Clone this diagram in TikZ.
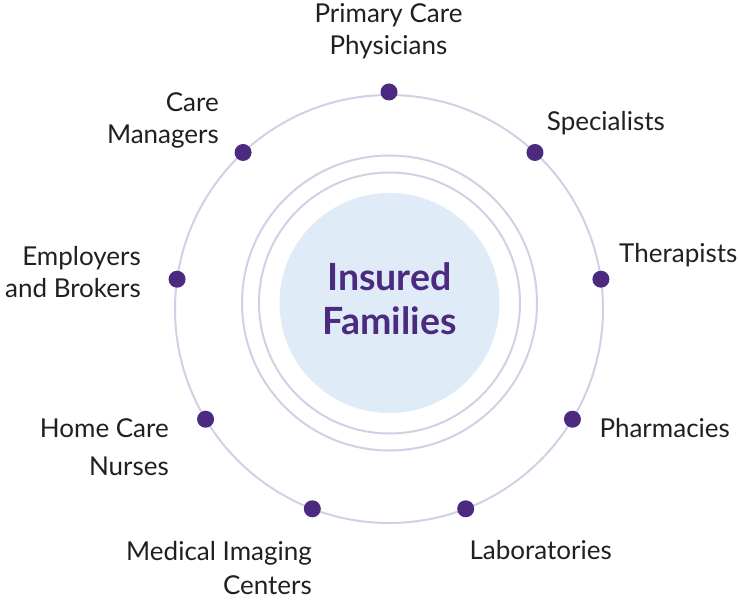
\documentclass[tikz,border=0pt]{standalone}
\usepackage{fontspec}
\setmainfont{Lato}
\usepackage{tikz}

\definecolor{ringline}{HTML}{D3CFE4}
\definecolor{plum}{HTML}{4B2A80}
\definecolor{paleblue}{HTML}{DFECF8}
\definecolor{ink}{HTML}{231F20}

\tikzset{
  dot/.style={circle,fill=plum,inner sep=0pt,minimum size=17pt},
  ring/.style={draw=ringline,line width=2pt},
  lbl/.style={text=ink,inner sep=0pt,font=\fontsize{26}{32}\selectfont},
}

\begin{document}
\begin{tikzpicture}[x=1pt,y=1pt]
    \useasboundingbox (0,0) rectangle (738,600);
    \coordinate (hub) at (389.5,297);
    \coordinate (orbit) at (389,291);

    % centre and inner rings
    \fill[paleblue] (hub) circle[radius=110pt];
    \draw[ring] (hub) circle[radius=130.5pt];
    \draw[ring] (hub) circle[radius=147.5pt];
    \node[font=\bfseries\fontsize{37.5}{43.6}\selectfont,text=plum,align=center,inner sep=0pt,anchor=base] (fam) at (389.5,265.7) {Insured\\Families};

    % outer ring with its stops
    \draw[ring] (orbit) circle[radius=214pt];
    \path (orbit) ++(90:217pt) node[dot] (pcp) {};
    \path (orbit) ++(47:214pt) node[dot] (spec) {};
    \path (orbit) ++(8:214pt) node[dot] (ther) {};
    \path (orbit) ++(-31:214pt) node[dot] (pharm) {};
    \path (orbit) ++(-69:214pt) node[dot] (lab) {};
    \path (orbit) ++(-111:214pt) node[dot] (img) {};
    \path (orbit) ++(-149:214pt) node[dot] (home) {};
    \path (orbit) ++(172:214pt) node[dot] (empl) {};
    \path (orbit) ++(133:214pt) node[dot] (mgr) {};

    % labels (multi-line ones sit on their last line)
    \node[lbl,align=center,anchor=base] (pcpname) at (388.5,545) {Primary Care\\Physicians};
    \node[lbl,anchor=base west] (specname) at (546.7,469.3) {Specialists};
    \node[lbl,anchor=base west] (thername) at (619,337.3) {Therapists};
    \node[lbl,anchor=base west] (pharmname) at (599.3,162.3) {Pharmacies};
    \node[lbl,anchor=base west] (labname) at (469.3,41) {Laboratories};
    \node[lbl,align=right,anchor=base east] (imgname) at (312,6) {Medical Imaging\\[2pt]Centers};
    \node[lbl,align=right,anchor=base east] (homename) at (169,124.3) {Home Care\\[6pt]Nurses};
    \node[lbl,align=right,anchor=base east] (emplname) at (141,302.3) {Employers\\and Brokers};
    \node[lbl,align=right,anchor=base east] (mgrname) at (219,456) {Care\\Managers};
\end{tikzpicture}
\end{document}
